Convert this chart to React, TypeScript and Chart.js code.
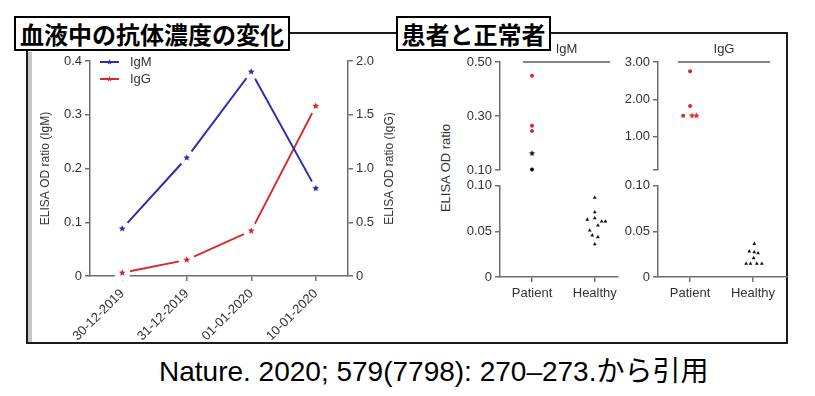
import React, { useEffect, useRef } from 'react';
import { Chart, registerables } from 'chart.js';

Chart.register(...registerables);

const FONT = '"Liberation Sans", Arial, "Noto Sans CJK JP", sans-serif';
const CJK = '"Noto Sans CJK JP", "Noto Sans CJK SC", sans-serif';
const AXIS = '#6e6e6e';
const TEXT = '#333333';
const BLUE = '#2b2db3';
const RED = '#d62a2a';
const BLACK = '#111111';

// ---------- Left chart: antibody level over time ----------
const dates = ['30-12-2019', '31-12-2019', '01-01-2020', '10-01-2020'];
const igmSeries = [0.088, 0.22, 0.38, 0.163];
const iggSeries = [0.03, 0.15, 0.42, 1.58];
const igmAxisTicks = [0, 0.1, 0.2, 0.3, 0.4];
const iggAxisTicks = [0, 0.5, 1.0, 1.5, 2.0];

// ---------- Right panels: patients vs healthy ----------
const groups = ['Patient', 'Healthy'];
const axisBreak = 0.1;
const lowerTicks = [0, 0.05, 0.1];
const igmUpperTicks = [0.1, 0.3, 0.5];
const iggUpperTicks = [0.1, 1, 2, 3];
const iggUpperHiddenLabels = [0.1];

const igmPatientRed = [0.449, 0.264, 0.245];
const igmPatientRedJitter = [0, 0, 0];
const igmPatientRedShape = ['circle', 'circle', 'circle'];
const igmPatientBlack = [0.162, 0.103];
const igmPatientBlackJitter = [0, 0];
const igmPatientBlackShape = ['star', 'circle'];
const igmHealthy = [0.087, 0.071, 0.063, 0.0645, 0.061, 0.0609, 0.0565, 0.051, 0.0457, 0.0438, 0.036];
const igmHealthyJitter = [0, 0, -0.12, 0, 0.11, 0.17, 0.05, -0.08, -0.04, 0.05, 0];

const iggPatientRed = [2.75, 1.82, 1.56, 1.56, 1.56];
const iggPatientRedJitter = [0, 0, -0.11, 0.03, 0.1];
const iggPatientRedShape = ['circle', 'circle', 'circle', 'star', 'star'];
const iggHealthy = [0.0364, 0.028, 0.0273, 0.0262, 0.0208, 0.0146, 0.0146, 0.0146, 0.0146];
const iggHealthyJitter = [0.02, -0.06, 0.02, 0.08, 0.01, -0.11, -0.04, 0.06, 0.14];

// ---------- marker helpers ----------
function starPath(ctx: CanvasRenderingContext2D, cx: number, cy: number, r: number) {
  ctx.beginPath();
  for (let i = 0; i < 10; i++) {
    const rad = i % 2 === 0 ? r : r * 0.45;
    const a = -Math.PI / 2 + (i * Math.PI) / 5;
    const x = cx + rad * Math.cos(a);
    const y = cy + rad * Math.sin(a);
    if (i === 0) ctx.moveTo(x, y);
    else ctx.lineTo(x, y);
  }
  ctx.closePath();
}

function makeStar(color: string, r: number): HTMLCanvasElement {
  const size = Math.ceil(2 * r) + 2;
  const c = document.createElement('canvas');
  c.width = size;
  c.height = size;
  const ctx = c.getContext('2d')!;
  ctx.fillStyle = color;
  starPath(ctx, size / 2, size / 2, r);
  ctx.fill();
  return c;
}

// ---------- plugins ----------
// star markers with a white halo so the line stops short of each point
const haloMarkers = {
  id: 'haloMarkers',
  afterDatasetsDraw(chart: any) {
    const { ctx } = chart;
    chart.data.datasets.forEach((ds: any, i: number) => {
      const meta = chart.getDatasetMeta(i);
      meta.data.forEach((pt: any) => {
        ctx.save();
        ctx.fillStyle = '#ffffff';
        ctx.beginPath();
        ctx.arc(pt.x, pt.y, 8, 0, Math.PI * 2);
        ctx.fill();
        ctx.fillStyle = ds.borderColor;
        starPath(ctx, pt.x, pt.y, 3.6);
        ctx.fill();
        ctx.restore();
      });
    });
  },
};

const starLegend = {
  id: 'starLegend',
  afterDraw(chart: any) {
    const { ctx, chartArea } = chart;
    chart.data.datasets.forEach((ds: any, i: number) => {
      const x = chartArea.left + 10;
      const y = chartArea.top + 1 + i * 17;
      ctx.save();
      ctx.strokeStyle = ds.borderColor;
      ctx.lineWidth = 2;
      ctx.beginPath();
      ctx.moveTo(x, y);
      ctx.lineTo(x + 19, y);
      ctx.stroke();
      ctx.fillStyle = ds.borderColor;
      starPath(ctx, x + 9.5, y, 3);
      ctx.fill();
      ctx.fillStyle = TEXT;
      ctx.font = `13px ${FONT}`;
      ctx.textBaseline = 'middle';
      ctx.textAlign = 'left';
      ctx.fillText(ds.label, x + 30, y);
      ctx.restore();
    });
  },
};

const rightTitle = {
  id: 'rightTitle',
  afterDraw(chart: any, _args: any, opts: any) {
    const s = chart.scales[opts.scaleId];
    if (!s) return;
    const { ctx } = chart;
    ctx.save();
    ctx.translate(s.right - opts.offset, (s.top + s.bottom) / 2);
    ctx.rotate(-Math.PI / 2);
    ctx.font = `12px ${FONT}`;
    ctx.fillStyle = TEXT;
    ctx.textAlign = 'center';
    ctx.textBaseline = 'middle';
    ctx.fillText(opts.text, 0, 0);
    ctx.restore();
  },
};

const fmt1 = (v: number) => (v === 0 ? '0' : Number(v).toFixed(1));
const fmt2 = (v: number) => (v === 0 ? '0' : Number(v).toFixed(2));

const tickGrid = { display: true, drawOnChartArea: false, drawTicks: true, tickLength: 5, color: AXIS, lineWidth: 1.5 };
const axisBorder = { display: true, color: AXIS, width: 1.5 };

function leftConfig(): any {
  return {
    type: 'line',
    data: {
      labels: dates,
      datasets: [
        { label: 'IgM', data: igmSeries, yAxisID: 'y', borderColor: BLUE, backgroundColor: BLUE, borderWidth: 2, pointRadius: 0, tension: 0, fill: false },
        { label: 'IgG', data: iggSeries, yAxisID: 'y1', borderColor: RED, backgroundColor: RED, borderWidth: 2, pointRadius: 0, tension: 0, fill: false },
      ],
    },
    options: {
      animation: false,
      responsive: false,
      events: [],
      layout: { padding: { top: 27, left: 0, right: 0, bottom: 0 } },
      plugins: {
        legend: { display: false },
        tooltip: { enabled: false },
        rightTitle: { scaleId: 'y1', text: 'ELISA OD ratio (IgG)', offset: 5 },
      },
      scales: {
        x: {
          type: 'category',
          offset: true,
          z: 1,
          grid: { ...tickGrid, offset: false },
          border: axisBorder,
          ticks: { autoSkip: false, maxRotation: 45, minRotation: 45, padding: 5, color: TEXT, font: { size: 13, family: FONT } },
          afterFit: (s: any) => { s.height = 67; },
        },
        y: {
          position: 'left',
          min: 0,
          max: 0.4,
          afterBuildTicks: (s: any) => { s.ticks = igmAxisTicks.map((v) => ({ value: v })); },
          grid: tickGrid,
          border: axisBorder,
          ticks: { callback: (v: any) => fmt1(v), padding: 3, color: TEXT, font: { size: 13, family: FONT } },
          title: { display: true, text: 'ELISA OD ratio (IgM)', color: TEXT, font: { size: 12, family: FONT }, padding: { top: 6, bottom: 0 } },
          afterFit: (s: any) => { s.width = 58; },
        },
        y1: {
          position: 'right',
          min: 0,
          max: 2,
          afterBuildTicks: (s: any) => { s.ticks = iggAxisTicks.map((v) => ({ value: v })); },
          grid: tickGrid,
          border: axisBorder,
          ticks: { callback: (v: any) => fmt1(v), padding: 3, color: TEXT, font: { size: 13, family: FONT } },
          afterFit: (s: any) => { s.width = 47; },
        },
      },
    },
    plugins: [haloMarkers, starLegend, rightTitle],
  };
}

type Series = { values: number[]; jitter: number[]; group: number; color: string; shapes: string[]; radius: number };

function buildDatasets(series: Series[], upper: boolean) {
  return series.map((s) => {
    const pts: { x: number; y: number }[] = [];
    const styles: any[] = [];
    s.values.forEach((v, i) => {
      if ((v >= axisBreak) === upper) {
        pts.push({ x: s.group + 1 + (s.jitter[i] || 0), y: v });
        const shape = s.shapes[i] || s.shapes[0];
        styles.push(shape === 'star' ? makeStar(s.color, 3.2) : shape);
      }
    });
    return {
      type: 'scatter',
      data: pts,
      pointStyle: styles,
      pointRadius: s.radius,
      backgroundColor: s.color,
      borderColor: s.color,
      borderWidth: 0,
      showLine: false,
      clip: 8,
    };
  });
}

function panelConfig(p: {
  series: Series[];
  upper: boolean;
  xMin: number;
  xMax: number;
  yTicks: number[];
  hidden?: number[];
  yWidth: number;
  padTop: number;
  padBottom: number;
  xHeight?: number;
}): any {
  const yMin = p.yTicks[0];
  const yMax = p.yTicks[p.yTicks.length - 1];
  return {
    type: 'scatter',
    data: { datasets: buildDatasets(p.series, p.upper) },
    options: {
      animation: false,
      responsive: false,
      events: [],
      layout: { padding: { top: p.padTop, bottom: p.padBottom, left: 0, right: 4 } },
      plugins: { legend: { display: false }, tooltip: { enabled: false } },
      scales: {
        x: {
          type: 'linear',
          display: !p.upper,
          min: p.xMin,
          max: p.xMax,
          afterBuildTicks: (s: any) => { s.ticks = groups.map((_, i) => ({ value: i + 1 })); },
          grid: tickGrid,
          border: axisBorder,
          ticks: { callback: (v: any) => groups[Math.round(v) - 1] || '', padding: 4, color: TEXT, font: { size: 13, family: FONT } },
          afterFit: (s: any) => { if (p.xHeight) s.height = p.xHeight; },
        },
        y: {
          type: 'linear',
          position: 'left',
          min: yMin,
          max: yMax,
          afterBuildTicks: (s: any) => { s.ticks = p.yTicks.map((v) => ({ value: v })); },
          grid: tickGrid,
          border: axisBorder,
          ticks: {
            callback: (v: any) => ((p.hidden || []).includes(v) ? '' : fmt2(v)),
            padding: 3,
            color: TEXT,
            font: { size: 13, family: FONT },
          },
          afterFit: (s: any) => { s.width = p.yWidth; },
        },
      },
    },
  };
}

const igmSeriesList = (): Series[] => [
  { values: igmPatientRed, jitter: igmPatientRedJitter, group: 0, color: RED, shapes: igmPatientRedShape, radius: 2 },
  { values: igmPatientBlack, jitter: igmPatientBlackJitter, group: 0, color: BLACK, shapes: igmPatientBlackShape, radius: 2 },
  { values: igmHealthy, jitter: igmHealthyJitter, group: 1, color: BLACK, shapes: ['triangle'], radius: 2.2 },
];
const iggSeriesList = (): Series[] => [
  { values: iggPatientRed, jitter: iggPatientRedJitter, group: 0, color: RED, shapes: iggPatientRedShape, radius: 2 },
  { values: iggHealthy, jitter: iggHealthyJitter, group: 1, color: BLACK, shapes: ['triangle'], radius: 2.2 },
];

const abs = (left: number, top: number, extra: React.CSSProperties = {}): React.CSSProperties => ({
  position: 'absolute',
  left,
  top,
  ...extra,
});

const titleBox: React.CSSProperties = {
  position: 'absolute',
  top: 16,
  height: 35,
  boxSizing: 'border-box',
  border: '2px solid #000',
  background: '#fff',
  fontFamily: CJK,
  fontWeight: 700,
  fontSize: 24,
  lineHeight: '31px',
  textAlign: 'center',
  whiteSpace: 'nowrap',
  color: '#000',
};

const header: React.CSSProperties = {
  position: 'absolute',
  top: 40,
  height: 21,
  boxSizing: 'content-box',
  borderBottom: '2px solid #858585',
  fontFamily: FONT,
  fontSize: 13,
  lineHeight: '18px',
  color: TEXT,
  textAlign: 'center',
};

export default function App() {
  const leftRef = useRef<HTMLCanvasElement>(null);
  const mUp = useRef<HTMLCanvasElement>(null);
  const mLo = useRef<HTMLCanvasElement>(null);
  const gUp = useRef<HTMLCanvasElement>(null);
  const gLo = useRef<HTMLCanvasElement>(null);

  useEffect(() => {
    const charts: Chart[] = [];
    charts.push(new Chart(leftRef.current!, leftConfig()));
    charts.push(new Chart(mUp.current!, panelConfig({ series: igmSeriesList(), upper: true, xMin: 0.49, xMax: 2.37, yTicks: igmUpperTicks, yWidth: 60, padTop: 18, padBottom: 9 })));
    charts.push(new Chart(mLo.current!, panelConfig({ series: igmSeriesList(), upper: false, xMin: 0.49, xMax: 2.37, yTicks: lowerTicks, yWidth: 60, padTop: 10, padBottom: 0, xHeight: 33 })));
    charts.push(new Chart(gUp.current!, panelConfig({ series: iggSeriesList(), upper: true, xMin: 0.49, xMax: 2.54, yTicks: iggUpperTicks, hidden: iggUpperHiddenLabels, yWidth: 58, padTop: 18, padBottom: 9 })));
    charts.push(new Chart(gLo.current!, panelConfig({ series: iggSeriesList(), upper: false, xMin: 0.49, xMax: 2.54, yTicks: lowerTicks, yWidth: 58, padTop: 10, padBottom: 0, xHeight: 33 })));
    return () => charts.forEach((c) => c.destroy());
  }, []);

  return (
    <div style={{ position: 'absolute', left: 0, top: 0, width: 815, height: 396, background: '#fff', overflow: 'hidden', fontFamily: FONT }}>
      {/* frame */}
      <div style={abs(26, 32, { width: 762, height: 312, boxSizing: 'border-box', border: '2px solid #1c1c1c' })} />
      <div style={abs(28, 52, { width: 4, height: 290, background: '#c6c6c6' })} />

      {/* left chart */}
      <canvas ref={leftRef} width={363} height={309} style={abs(32, 34, { width: 363, height: 309 })} />

      {/* right panels */}
      <div
        style={abs(445, 168, {
          transform: 'translate(-50%, -50%) rotate(-90deg)',
          whiteSpace: 'nowrap',
          fontSize: 13,
          color: TEXT,
          fontFamily: FONT,
        })}
      >
        ELISA OD ratio
      </div>
      <canvas ref={mUp} width={182} height={137} style={abs(440, 44, { width: 182, height: 137 })} />
      <canvas ref={mLo} width={182} height={135} style={abs(440, 175, { width: 182, height: 135 })} />
      <canvas ref={gUp} width={191} height={137} style={abs(600, 44, { width: 191, height: 137 })} />
      <canvas ref={gLo} width={191} height={135} style={abs(600, 175, { width: 191, height: 135 })} />
      <div style={{ ...header, left: 523, width: 87 }}>IgM</div>
      <div style={{ ...header, left: 678, width: 92 }}>IgG</div>

      {/* title boxes */}
      <div style={{ ...titleBox, left: 14, width: 276 }}>血液中の抗体濃度の変化</div>
      <div style={{ ...titleBox, left: 396, width: 155 }}>患者と正常者</div>

      {/* citation */}
      <div style={abs(159, 354, { fontSize: 28, lineHeight: '36px', whiteSpace: 'nowrap', color: '#000', fontFamily: FONT })}>
        Nature. 2020; 579(7798): 270–273.から引用
      </div>
    </div>
  );
}
